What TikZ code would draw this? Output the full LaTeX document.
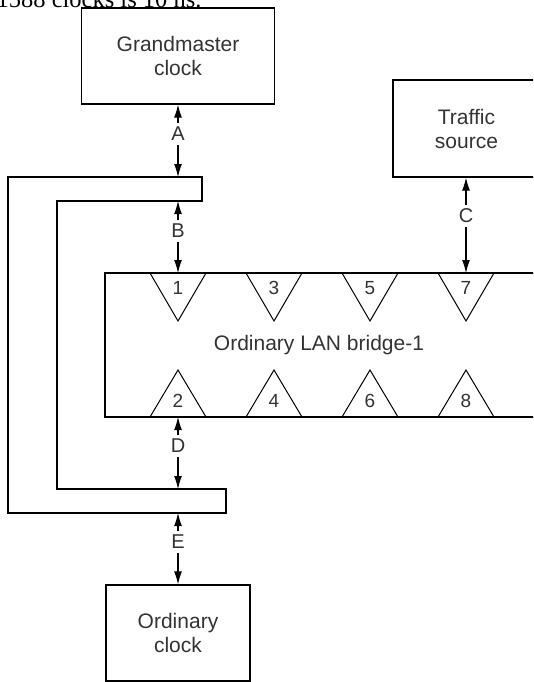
\documentclass[tikz,border=0pt]{standalone}
\usepackage{fontspec}
\setmainfont{Liberation Sans}
\newfontfamily\bodyserif{Liberation Serif}
\usetikzlibrary{arrows.meta}
\begin{document}
\begin{tikzpicture}[x=1pt,y=-1pt,line width=1.3pt,
  unitbox/.style={draw,align=center,inner sep=0pt,text=black!80,
    font=\fontsize{21}{24}\selectfont},
  caption/.style={inner sep=0pt,text=black!80,font=\fontsize{21}{24}\selectfont},
  linklabel/.style={inner sep=3pt,text=black!80,font=\fontsize{20}{20}\selectfont},
  portnum/.style={inner sep=0pt,text=black!80,font=\fontsize{19}{19}\selectfont},
  port/.style={line width=1pt},
  link/.style={line width=1.1pt,-{Latex[length=13pt,width=8pt]}}]
\useasboundingbox (0,0) rectangle (533,682);
\clip (0,0) rectangle (533,682);

% line of running text above the figure
\node[anchor=base west,inner sep=0pt,font=\bodyserif\fontsize{24.5}{24.5}\selectfont]
  (runtext) at (-4,7.5) {1588 clocks is 10 ns.};

% end stations
\node[unitbox,minimum width=193pt,minimum height=96pt] (gm) at (178,56) {Grandmaster\\clock};
\node[unitbox,minimum width=147pt,minimum height=97pt] (ts) at (466.5,128.5) {Traffic\\source};
\node[unitbox,minimum width=144pt,minimum height=96pt] (oc) at (178,633) {Ordinary\\clock};

% bracket-shaped link segment running round the left side
\draw (202,177) -- (8,177) -- (8,513) -- (226,513) -- (226,489)
      -- (57,489) -- (57,201) -- (202,201) -- cycle;

% LAN bridge body (open towards the right)
\draw (545,273) -| (105,417) -- (545,417);
\node[caption] (bridge) at (319,345) {Ordinary LAN bridge-1};

% ports: odd numbers on the top edge, even numbers on the bottom edge
\foreach \n/\cx in {1/178,3/274,5/370,7/466}{
  \draw[port] (\cx-28,273) -- (\cx,321) -- (\cx+28,273);
  \coordinate (p\n) at (\cx,273);
  \node[portnum] (n\n) at (\cx,288) {\n};
}
\foreach \n/\cx in {2/178,4/274,6/370,8/466}{
  \draw[port] (\cx-28,417) -- (\cx,370) -- (\cx+28,417);
  \coordinate (p\n) at (\cx,417);
  \node[portnum] (n\n) at (\cx,401) {\n};
}

% attachment points on the bracket
\coordinate (barAtop) at (178,177);
\coordinate (barBbot) at (178,201);
\coordinate (barDtop) at (178,489);
\coordinate (barEbot) at (178,513);

% labelled links
\node[linklabel] (la) at (178,134) {A};
\draw[link] (la.north) -- (la.north |- gm.south);
\draw[link] (la.south) -- (barAtop);

\node[linklabel] (lb) at (178,231) {B};
\draw[link] (lb.north) -- (barBbot);
\draw[link] (lb.south) -- (p1);

\node[linklabel] (lc) at (466,216) {C};
\draw[link] (lc.north) -- (lc.north |- ts.south);
\draw[link] (lc.south) -- (p7);

\node[linklabel] (ld) at (178,446) {D};
\draw[link] (ld.north) -- (p2);
\draw[link] (ld.south) -- (barDtop);

\node[linklabel] (le) at (178,542) {E};
\draw[link] (le.north) -- (barEbot);
\draw[link] (le.south) -- (le.south |- oc.north);
\end{tikzpicture}
\end{document}
